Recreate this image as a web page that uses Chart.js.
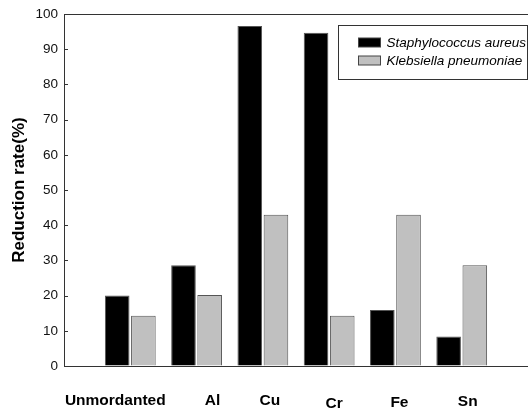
<!DOCTYPE html>
<html>
<head>
<meta charset="utf-8">
<script src="https://cdn.jsdelivr.net/npm/chart.js@4.4.1/dist/chart.umd.min.js"></script>
<style>
  html, body { margin: 0; padding: 0; background: #fff; }
  #wrap { width: 528px; height: 410px; }
</style>
</head>
<body>
<div id="wrap"><canvas id="myChart" width="528" height="410"></canvas></div>
<script>
// data
var categories = ['Unmordanted', 'Al', 'Cu', 'Cr', 'Fe', 'Sn'];
var staphValues = [20.0, 28.6, 96.6, 94.7, 15.9, 8.4];
var klebValues = [14.3, 20.2, 43.0, 14.3, 43.0, 28.6];
var yTicks = [0, 10, 20, 30, 40, 50, 60, 70, 80, 90, 100];

// empty slot on each side so categories sit at 1..6 on the axis
var labels = [''].concat(categories, ['']);
var pad = function(arr) { return [null].concat(arr, [null]); };

// the category names sit a little off the bar pairs in the original
var labelNudge = [[-15, 0], [16, 0], [7, 0], [5, 3], [4, 2], [6, 1]];

var fontFam = '"Liberation Sans", Arial, sans-serif';

var extras = {
    id: 'extras',
    afterDraw: function(chart) {
        var ctx = chart.ctx;
        var xs = chart.scales.x;
        var ys = chart.scales.y;
        var area = chart.chartArea;
        ctx.save();

        // short inward tick marks on the y axis
        ctx.strokeStyle = '#333';
        ctx.lineWidth = 1;
        ys.ticks.forEach(function(t) {
            var y = Math.round(ys.getPixelForValue(t.value)) + 0.5;
            ctx.beginPath();
            ctx.moveTo(area.left, y);
            ctx.lineTo(area.left + 4, y);
            ctx.stroke();
        });

        // category labels under the axis
        ctx.font = 'bold 15.5px ' + fontFam;
        ctx.fillStyle = '#000';
        ctx.textAlign = 'center';
        ctx.textBaseline = 'middle';
        categories.forEach(function(c, i) {
            var x = xs.getPixelForValue(i + 1) + labelNudge[i][0];
            ctx.fillText(c, x, 401 + labelNudge[i][1]);
        });

        // boxed legend, top right
        var bx = 338.5, by = 25.5, bw = 189, bh = 54;
        ctx.fillStyle = '#fff';
        ctx.fillRect(bx, by, bw, bh);
        ctx.strokeStyle = '#333';
        ctx.strokeRect(bx, by, bw, bh);
        ctx.font = 'italic 13.5px ' + fontFam;
        ctx.textAlign = 'left';
        chart.data.datasets.forEach(function(ds, i) {
            var ry = by + 17 + i * 18;
            ctx.fillStyle = ds.backgroundColor;
            ctx.fillRect(bx + 20, ry - 4.5, 22, 9);
            ctx.strokeStyle = '#444';
            ctx.strokeRect(bx + 20, ry - 4.5, 22, 9);
            ctx.fillStyle = '#000';
            ctx.fillText(ds.label, bx + 48, ry + 1);
        });
        ctx.restore();
    }
};

var ctx = document.getElementById('myChart').getContext('2d');
var myChart = new Chart(ctx, {
    type: 'bar',
    data: {
        labels: labels,
        datasets: [{
            label: 'Staphylococcus aureus',
            data: pad(staphValues),
            backgroundColor: '#000000',
            borderColor: '#555555',
            borderWidth: 1
        }, {
            label: 'Klebsiella pneumoniae',
            data: pad(klebValues),
            backgroundColor: '#c0c0c0',
            borderColor: '#555555',
            borderWidth: 1
        }]
    },
    options: {
        responsive: false,
        animation: false,
        layout: { padding: { top: 6, right: 0, bottom: 36, left: 0 } },
        datasets: { bar: { categoryPercentage: 0.79, barPercentage: 0.94 } },
        plugins: { legend: { display: false }, tooltip: { enabled: false } },
        scales: {
            x: {
                offset: false,
                grid: { display: false },
                border: { display: true, color: '#333', width: 1 },
                ticks: { display: false }
            },
            xTop: {
                position: 'top',
                type: 'category',
                grid: { display: false },
                border: { display: true, color: '#333', width: 1 },
                ticks: { display: false }
            },
            y: {
                min: 0,
                max: 100,
                afterFit: function(scale) { scale.width = 64; },
                afterBuildTicks: function(scale) {
                    scale.ticks = yTicks.map(function(v) { return { value: v }; });
                },
                grid: { drawOnChartArea: false, drawTicks: false, tickLength: 0 },
                border: { display: true, color: '#333', width: 1 },
                ticks: {
                    padding: 6,
                    color: '#111',
                    font: { family: fontFam, size: 13.5 }
                },
                title: {
                    display: true,
                    text: 'Reduction rate(%)',
                    color: '#000',
                    font: { family: fontFam, size: 17, weight: 'bold' },
                    padding: { top: 9, bottom: 0 }
                }
            }
        }
    },
    plugins: [extras]
});
</script>
</body>
</html>
